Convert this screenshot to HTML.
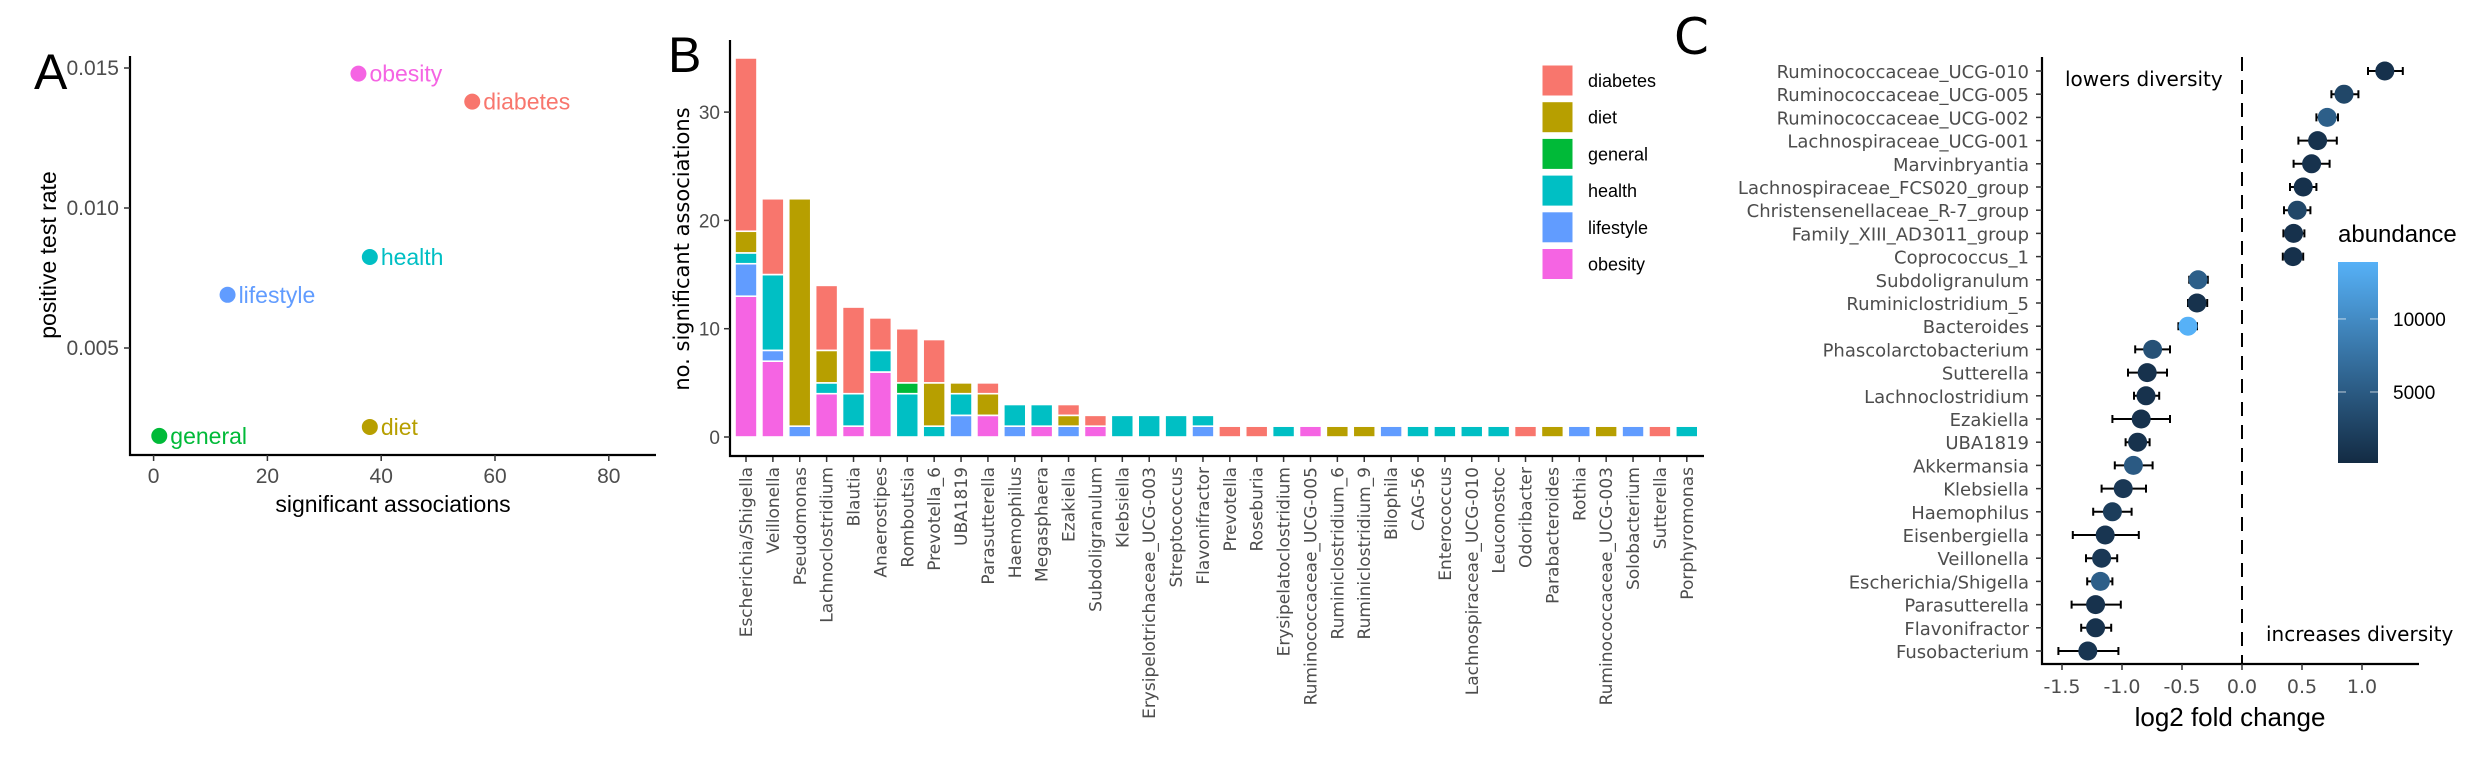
<!DOCTYPE html>
<html><head><meta charset="utf-8">
<style>
html,body{margin:0;padding:0;background:#fff;}
svg{display:block;}
text{font-family:"Liberation Sans",sans-serif;}
.dv{font-family:"DejaVu Sans","Liberation Sans",sans-serif;}
</style></head>
<body>
<svg id="fig" width="2480" height="768" viewBox="0 0 2480 768" xmlns="http://www.w3.org/2000/svg">
  <g id="pA"></g>
  <g id="pB"></g>
  <g id="pC"></g>
</svg>
<script>
const NS="http://www.w3.org/2000/svg";
function mk(tag,attrs,parent,txt){const e=document.createElementNS(NS,tag);for(const k in attrs)e.setAttribute(k,attrs[k]);if(txt!==undefined)e.textContent=txt;parent.appendChild(e);return e;}
const COLORS={diabetes:"#F8766D",diet:"#B79F00",general:"#00BA38",health:"#00BFC4",lifestyle:"#619CFF",obesity:"#F564E3"};

// ---------- Panel A data ----------
const aCategories=["obesity","diabetes","health","lifestyle","diet","general"];
const aAssoc=[36,56,38,13,38,1];
const aRate=[0.0148,0.0138,0.00825,0.0069,0.00218,0.00186];
const aXTicks=[0,20,40,60,80];
const aYTicks=[0.005,0.010,0.015];
const aYTickLabels=["0.005","0.010","0.015"];

// ---------- Panel B data ----------
const bGenera=["Escherichia/Shigella","Veillonella","Pseudomonas","Lachnoclostridium","Blautia","Anaerostipes","Romboutsia","Prevotella_6","UBA1819","Parasutterella","Haemophilus","Megasphaera","Ezakiella","Subdoligranulum","Klebsiella","Erysipelotrichaceae_UCG-003","Streptococcus","Flavonifractor","Prevotella","Roseburia","Erysipelatoclostridium","Ruminococcaceae_UCG-005","Ruminiclostridium_6","Ruminiclostridium_9","Bilophila","CAG-56","Enterococcus","Lachnospiraceae_UCG-010","Leuconostoc","Odoribacter","Parabacteroides","Rothia","Ruminococcaceae_UCG-003","Solobacterium","Sutterella","Porphyromonas"];
const bObesity  =[13,7,0,4,1,6,0,0,0,2,0,1,0,1,0,0,0,0,0,0,0,1,0,0,0,0,0,0,0,0,0,0,0,0,0,0];
const bLifestyle=[3,1,1,0,0,0,0,0,2,0,1,0,1,0,0,0,0,1,0,0,0,0,0,0,1,0,0,0,0,0,0,1,0,1,0,0];
const bHealth   =[1,7,0,1,3,2,4,1,2,0,2,2,0,0,2,2,2,1,0,0,1,0,0,0,0,1,1,1,1,0,0,0,0,0,0,1];
const bGeneral  =[0,0,0,0,0,0,1,0,0,0,0,0,0,0,0,0,0,0,0,0,0,0,0,0,0,0,0,0,0,0,0,0,0,0,0,0];
const bDiet     =[2,0,21,3,0,0,0,4,1,2,0,0,1,0,0,0,0,0,0,0,0,0,1,1,0,0,0,0,0,0,1,0,1,0,0,0];
const bDiabetes =[16,7,0,6,8,3,5,4,0,1,0,0,1,1,0,0,0,0,1,1,0,0,0,0,0,0,0,0,0,1,0,0,0,0,1,0];
const bYTicks=[0,10,20,30];
const bLegend=["diabetes","diet","general","health","lifestyle","obesity"];

// ---------- Panel C data ----------
const cGenera=["Ruminococcaceae_UCG-010","Ruminococcaceae_UCG-005","Ruminococcaceae_UCG-002","Lachnospiraceae_UCG-001","Marvinbryantia","Lachnospiraceae_FCS020_group","Christensenellaceae_R-7_group","Family_XIII_AD3011_group","Coprococcus_1","Subdoligranulum","Ruminiclostridium_5","Bacteroides","Phascolarctobacterium","Sutterella","Lachnoclostridium","Ezakiella","UBA1819","Akkermansia","Klebsiella","Haemophilus","Eisenbergiella","Veillonella","Escherichia/Shigella","Parasutterella","Flavonifractor","Fusobacterium"];
const cFold=[1.19,0.85,0.71,0.63,0.58,0.51,0.46,0.43,0.425,-0.366,-0.375,-0.45,-0.745,-0.79,-0.80,-0.84,-0.87,-0.905,-0.99,-1.08,-1.14,-1.17,-1.18,-1.22,-1.22,-1.285];
const cLow =[1.05,0.745,0.62,0.47,0.43,0.40,0.35,0.345,0.34,-0.44,-0.45,-0.53,-0.89,-0.95,-0.90,-1.08,-0.97,-1.06,-1.17,-1.24,-1.41,-1.30,-1.29,-1.42,-1.34,-1.53];
const cHigh=[1.34,0.97,0.80,0.79,0.73,0.62,0.57,0.52,0.51,-0.285,-0.29,-0.375,-0.60,-0.625,-0.69,-0.60,-0.77,-0.745,-0.80,-0.92,-0.86,-1.04,-1.08,-1.01,-1.09,-1.03];
const cAbund=[800,3000,5500,900,900,800,3000,800,800,5500,900,13900,4000,900,900,900,900,5000,1500,2000,1200,1500,5500,900,900,1200];
const cXTicks=[-1.5,-1.0,-0.5,0.0,0.5,1.0];
const cXTickLabels=["-1.5","-1.0","-0.5","0.0","0.5","1.0"];
const cBarTicks=[5000,10000];

// ================= Panel A =================
(function(){
const g=document.getElementById('pA');
const x=v=>153.6+v*5.69, y=v=>68+(0.015-v)*28000;
let t=mk('text',{x:34,y:89,'font-size':50,fill:'#000'},g,'A');

let ax=mk('path',{d:'M130,56 V455 H656',fill:'none',stroke:'#000','stroke-width':2.2},g);

aXTicks.forEach(v=>{mk('line',{x1:x(v),x2:x(v),y1:455,y2:461,stroke:'#333','stroke-width':1.5},g);
 const tl=mk('text',{x:x(v),y:483,'font-size':21,fill:'#4d4d4d','text-anchor':'middle'},g,String(v));
 });
aYTicks.forEach((v,i)=>{mk('line',{x1:124,x2:130,y1:y(v),y2:y(v),stroke:'#333','stroke-width':1.5},g);
 const tl=mk('text',{x:119,y:y(v)+7,'font-size':21,fill:'#4d4d4d','text-anchor':'end'},g,aYTickLabels[i]);
 });
let xt=mk('text',{x:393,y:512,'font-size':23,fill:'#000','text-anchor':'middle'},g,'significant associations');

let yt=mk('text',{x:0,y:0,'font-size':23,fill:'#000','text-anchor':'middle',transform:'translate(56,255) rotate(-90)'},g,'positive test rate');

aCategories.forEach((c,i)=>{
 const cx=x(aAssoc[i]),cy=y(aRate[i]);
 const p=mk('circle',{cx:cx,cy:cy,r:8,fill:COLORS[c]},g);
 
 const l=mk('text',{x:cx+11,y:cy+8,'font-size':23,fill:COLORS[c]},g,c);
 
});
})();

// ================= Panel B =================
(function(){
const g=document.getElementById('pB');
const x0=746,pitch=26.88,bw=22;
const y=v=>437-v*10.83;
let t=mk('text',{x:668,y:72,'font-size':50,fill:'#000'},g,'B');

const stackOrder=[["obesity",bObesity],["lifestyle",bLifestyle],["health",bHealth],["general",bGeneral],["diet",bDiet],["diabetes",bDiabetes]];
bGenera.forEach((name,i)=>{
 const cx=x0+i*pitch;let base=0;
 stackOrder.forEach(([cat,arr])=>{
  const v=arr[i]; if(!v) return;
  const r=mk('rect',{x:cx-bw/2,y:y(base+v),width:bw,height:y(base)-y(base+v),fill:COLORS[cat],stroke:'#fff','stroke-width':1.6},g);
  
  base+=v;
 });
 mk('line',{x1:cx,x2:cx,y1:456,y2:462,stroke:'#333','stroke-width':1.5},g);
 const l=mk('text',{x:0,y:0,'font-size':17,fill:'#4d4d4d','text-anchor':'end',transform:`translate(${cx+6},467) rotate(-90)`,class:'dv'},g,name);
 
});
let ax=mk('path',{d:'M730,40 V456 H1704',fill:'none',stroke:'#000','stroke-width':2.2},g);

bYTicks.forEach(v=>{mk('line',{x1:724,x2:730,y1:y(v),y2:y(v),stroke:'#333','stroke-width':1.5},g);
 const tl=mk('text',{x:720,y:y(v)+7,'font-size':19,fill:'#4d4d4d','text-anchor':'end'},g,String(v));
 });
let yt=mk('text',{x:0,y:0,'font-size':21,fill:'#000','text-anchor':'middle',transform:'translate(689,249) rotate(-90)',class:'dv'},g,'no. significant associations');

bLegend.forEach((c,i)=>{
 const yy=65+i*36.7;
 const k=mk('rect',{x:1542,y:yy,width:31,height:31,fill:COLORS[c],stroke:'#fff','stroke-width':1},g);
 
 const l=mk('text',{x:1588,y:yy+22,'font-size':18,fill:'#000'},g,c);
 
});
})();

// ================= Panel C =================
(function(){
const g=document.getElementById('pC');
const x=v=>2242+v*120, y=i=>71+i*23.2;
const aMin=137,aMax=13900;
function col(a){const t=Math.max(0,Math.min(1,(a-aMin)/(aMax-aMin)));
 const c0=[19,43,67],c1=[86,177,247];
 return 'rgb('+c0.map((v,k)=>Math.round(v+(c1[k]-v)*t)).join(',')+')';}
let t=mk('text',{x:1674,y:54,'font-size':50,fill:'#000',class:'dv'},g,'C');

let dl=mk('line',{x1:x(0),x2:x(0),y1:57,y2:664,stroke:'#000','stroke-width':2,'stroke-dasharray':'14,9'},g);

let ax=mk('path',{d:'M2042,57 V664 H2419',fill:'none',stroke:'#000','stroke-width':2.2},g);

cXTicks.forEach((v,i)=>{mk('line',{x1:x(v),x2:x(v),y1:664,y2:670,stroke:'#333','stroke-width':1.5},g);
 const tl=mk('text',{x:x(v),y:693,'font-size':19,fill:'#4d4d4d','text-anchor':'middle',class:'dv'},g,cXTickLabels[i]);
 });
let xt=mk('text',{x:2230,y:726,'font-size':26,fill:'#000','text-anchor':'middle'},g,'log2 fold change');

cGenera.forEach((name,i)=>{
 const yy=y(i);
 mk('line',{x1:2036,x2:2042,y1:yy,y2:yy,stroke:'#333','stroke-width':1.5},g);
 const l=mk('text',{x:2029,y:yy+7,'font-size':18,fill:'#4d4d4d','text-anchor':'end',class:'dv'},g,name);
 
 const eb=mk('path',{d:`M${x(cLow[i])},${yy} H${x(cHigh[i])} M${x(cLow[i])},${yy-4} V${yy+4} M${x(cHigh[i])},${yy-4} V${yy+4}`,stroke:'#000','stroke-width':2,fill:'none'},g);
 
 const p=mk('circle',{cx:x(cFold[i]),cy:yy,r:9.5,fill:col(cAbund[i])},g);
 
});
let lo=mk('text',{x:2065,y:86,'font-size':20,fill:'#000',class:'dv'},g,'lowers diversity');

let hi=mk('text',{x:2266,y:641,'font-size':20,fill:'#000',class:'dv'},g,'increases diversity');

const defs=mk('defs',{},g);
const gr=mk('linearGradient',{id:'cb',x1:0,y1:1,x2:0,y2:0},defs);
mk('stop',{offset:'0','stop-color':'#132B43'},gr);mk('stop',{offset:'1','stop-color':'#56B1F7'},gr);
let ct=mk('text',{x:2338,y:242,'font-size':24,fill:'#000'},g,'abundance');

let cb=mk('rect',{x:2338,y:262,width:40,height:201,fill:'url(#cb)'},g);

const cy=v=>463-(v-aMin)/(aMax-aMin)*201;
cBarTicks.forEach(v=>{
 mk('line',{x1:2338,x2:2346,y1:cy(v),y2:cy(v),stroke:'#fff','stroke-opacity':0.7,'stroke-width':1},g);
 mk('line',{x1:2370,x2:2378,y1:cy(v),y2:cy(v),stroke:'#fff','stroke-opacity':0.7,'stroke-width':1},g);
 const tl=mk('text',{x:2393,y:cy(v)+7,'font-size':19,fill:'#000'},g,String(v));
 
});
})();
</script>
</body></html>
